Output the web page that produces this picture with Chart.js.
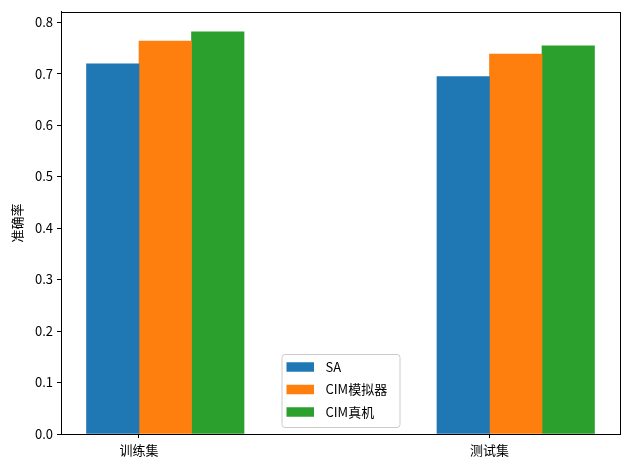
<!DOCTYPE html>
<html>
<head>
<meta charset="utf-8">
<script src="https://cdn.jsdelivr.net/npm/chart.js@4.4.1/dist/chart.umd.min.js"></script>
<style>
  html, body { margin: 0; padding: 0; background: #fff; }
  #wrap { width: 630px; height: 470px; }
</style>
</head>
<body>
<div id="wrap"><canvas id="chart"></canvas></div>
<script>
const groups = ["训练集", "测试集"];
const groupPos = [0, 1];
const seriesNames = ["SA", "CIM模拟器", "CIM真机"];
const saValues = [0.719, 0.694];
const cimSimValues = [0.763, 0.738];
const cimRealValues = [0.781, 0.754];
const yTicks = [0, 0.1, 0.2, 0.3, 0.4, 0.5, 0.6, 0.7, 0.8];
const colors = ["#1f77b4", "#ff7f0e", "#2ca02c"];

// bars are 0.15 wide, first bar's right edge sits on the tick
const barW = 0.15;
const groupShift = barW / 2;

Chart.defaults.font.family = "'Noto Sans CJK SC', 'Noto Sans', sans-serif";
Chart.defaults.font.size = 13;
Chart.defaults.color = "#000";

function toPoints(vals) {
  return vals.map((v, i) => ({ x: groupPos[i] + groupShift, y: v }));
}

const frame = {
  id: "frame",
  afterDraw(chart) {
    const { ctx, chartArea: a } = chart;
    ctx.save();
    ctx.strokeStyle = "#000";
    ctx.lineWidth = 1;
    ctx.strokeRect(Math.round(a.left) + 0.5, Math.round(a.top) + 0.5,
      Math.round(a.right - a.left), Math.round(a.bottom - a.top));
    ctx.restore();
  },
};

const innerLegend = {
  id: "innerLegend",
  afterDraw(chart) {
    const { ctx, chartArea: a } = chart;
    const w = 118, h = 73;
    const x0 = (a.left + a.right) / 2 - w / 2;
    const y0 = a.bottom - 7 - h;
    ctx.save();
    ctx.fillStyle = "rgba(255,255,255,0.8)";
    ctx.strokeStyle = "#cccccc";
    ctx.lineWidth = 1;
    ctx.beginPath();
    ctx.roundRect(x0 + 0.5, y0 + 0.5, w, h, 3);
    ctx.fill();
    ctx.stroke();
    ctx.font = "13px 'Noto Sans CJK SC', 'Noto Sans', sans-serif";
    ctx.textBaseline = "middle";
    chart.data.datasets.forEach((ds, i) => {
      const cy = y0 + 13 + i * 22.5;
      ctx.fillStyle = ds.backgroundColor;
      ctx.fillRect(x0 + 5, cy - 4.75, 27.5, 9.5);
      ctx.fillStyle = "#000";
      ctx.fillText(ds.label, x0 + 44, cy);
    });
    ctx.restore();
  },
};

new Chart(document.getElementById("chart"), {
  type: "bar",
  data: {
    datasets: [
      { label: seriesNames[0], data: toPoints(saValues), backgroundColor: colors[0] },
      { label: seriesNames[1], data: toPoints(cimSimValues), backgroundColor: colors[1] },
      { label: seriesNames[2], data: toPoints(cimRealValues), backgroundColor: colors[2] },
    ],
  },
  options: {
    responsive: true,
    maintainAspectRatio: false,
    animation: false,
    barThickness: 52.5,
    layout: { padding: { top: 9, right: 10, left: 0, bottom: 0 } },
    plugins: { legend: { display: false }, tooltip: { enabled: false } },
    scales: {
      x: {
        type: "linear",
        offset: false,
        min: -0.2225,
        max: 1.3725,
        grid: { offset: false, drawOnChartArea: false, tickLength: 4, tickColor: "#000" },
        border: { display: true, color: "#000" },
        ticks: {
          padding: 4,
          callback: (v) => {
            const i = groupPos.indexOf(v);
            return i >= 0 ? groups[i] : "";
          },
        },
        afterBuildTicks: (s) => { s.ticks = groupPos.map((v) => ({ value: v })); },
        afterFit: (s) => { s.height = 36; },
      },
      y: {
        min: 0,
        max: 0.82,
        grid: { drawOnChartArea: false, tickLength: 4, tickColor: "#000" },
        border: { display: true, color: "#000" },
        ticks: { padding: 4, callback: (v) => v.toFixed(1) },
        title: { display: true, text: "准确率", padding: { top: 9, bottom: 0 } },
        afterBuildTicks: (s) => { s.ticks = yTicks.map((v) => ({ value: v })); },
        afterFit: (s) => { s.width = 61; },
      },
    },
  },
  plugins: [frame, innerLegend],
});
</script>
</body>
</html>
